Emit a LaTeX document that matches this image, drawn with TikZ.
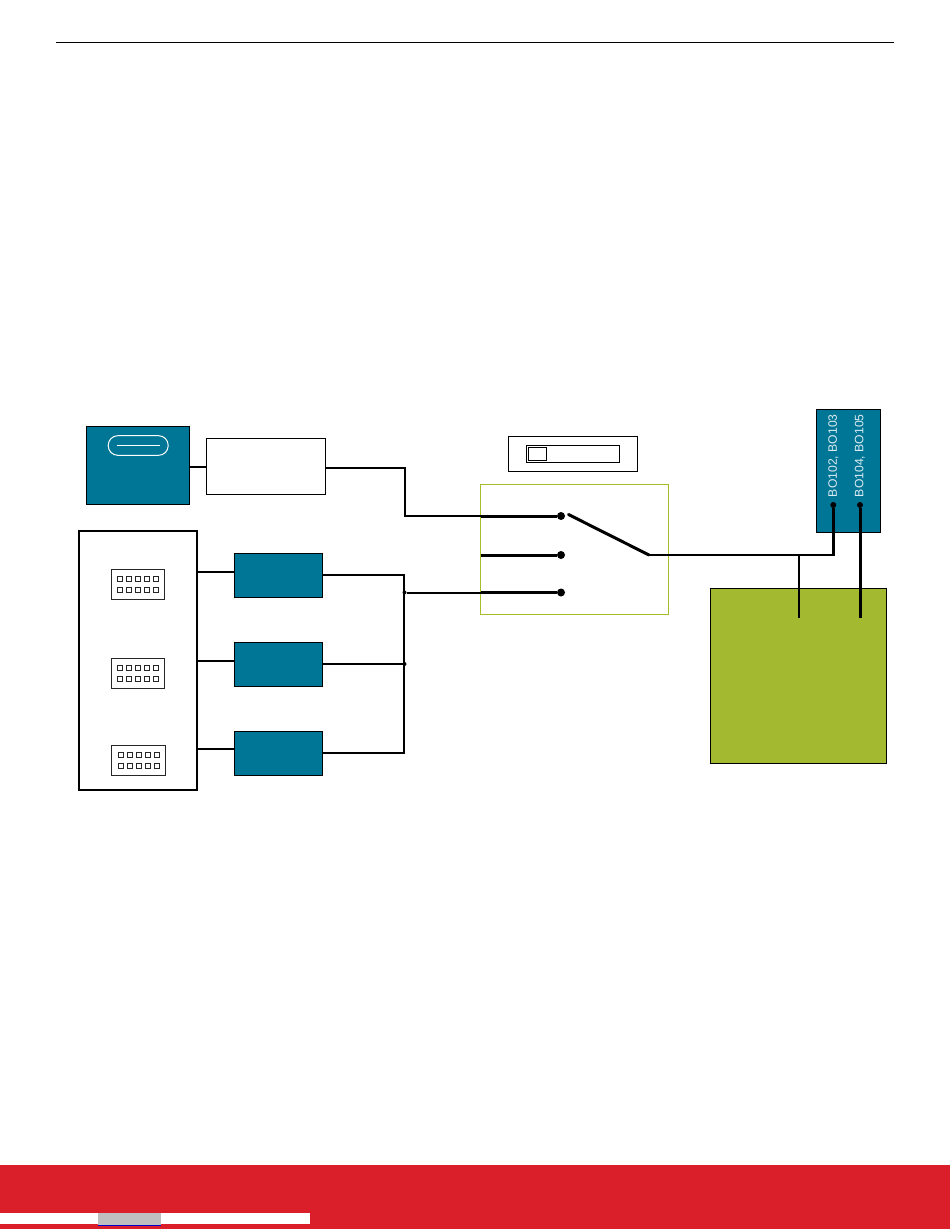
\documentclass[tikz,border=0pt]{standalone}
\usepackage{fontspec}
\setmainfont{Liberation Sans}
\newfontfamily\bolabel{Liberation Sans}
\definecolor{teal}{HTML}{007697}
\definecolor{lime}{HTML}{A3B92F}
\definecolor{limeline}{HTML}{A8BC2A}
\definecolor{brandred}{HTML}{DA1F2B}
\definecolor{lighttxt}{HTML}{DCEBF0}
\tikzset{
  px/.style={line width=#1*0.75pt},
  rectn/.style={draw=black,rectangle,inner sep=0pt,outer sep=0pt,px=1},
  tealbox/.style={rectn,fill=teal},
  wire/.style={draw=black,px=2},
  heavy/.style={draw=black,px=3},
  probe/.style={draw=black,px=3},
  pad/.style={circle,fill=black,draw=none,inner sep=0pt,outer sep=0pt,minimum size=6pt},
  smallpad/.style={circle,fill=black,draw=none,inner sep=0pt,outer sep=0pt,minimum size=4.5pt},
  junction/.style={circle,fill=black,draw=none,inner sep=0pt,outer sep=0pt,minimum size=3pt},
  pin/.style={draw=black!85,fill=white,px=1,rectangle,inner sep=0pt,outer sep=0pt,minimum width=3.75pt,minimum height=3.75pt},
  hdr/.style={draw=black!85,fill=white,px=1,rectangle,inner sep=0pt,outer sep=0pt},
  vtxt/.style={rotate=90,anchor=west,inner sep=0pt,text=lighttxt,font=\bolabel\fontsize{9.15}{11}\selectfont}
}
\newcommand{\boxat}[6]{% name, style, x0, y0, x1, y1
  \node[#2,minimum width={(#5-#3)*0.75pt},minimum height={(#6-#4)*0.75pt}] (#1) at ({(#3+#5)/2},{(#4+#6)/2}) {};}
\newcommand{\pinrow}[6]{% y, x1..x5
  \node[pin] (p#2x#1) at (#2,#1) {};\node[pin] (p#3x#1) at (#3,#1) {};\node[pin] (p#4x#1) at (#4,#1) {};\node[pin] (p#5x#1) at (#5,#1) {};\node[pin] (p#6x#1) at (#6,#1) {};}
\begin{document}
\begin{tikzpicture}[x=0.75pt,y=-0.75pt]
\useasboundingbox (0,0) rectangle (950,1229);
\fill[white] (0,0) rectangle (950,1229);
% header rule and footer
\coordinate (ruleL) at (56,42.5);
\coordinate (ruleR) at (894,42.5);
\draw[draw=black,px=1] (ruleL) -- (ruleR);
\fill[brandred] (0,1165.2) rectangle (950,1229);
\fill[white] (0,1213) rectangle (310,1224);
\fill[black!25] (98,1212.5) rectangle (160.5,1225);
\draw[blue!80!black,px=0.7] (98,1225.3) -- (160.5,1225.3);
% USB block
\boxat{usb}{tealbox}{86.5}{426.5}{189.5}{504.5}
\node[draw=white,px=1,rounded corners=7.2pt,inner sep=0pt,minimum width=45pt,minimum height=14.7pt] (pill) at (138.2,445.5) {};
\coordinate (pillL) at (116.7,445);
\coordinate (pillR) at (160,445);
\draw[white,px=1] (pillL) -- (pillR);
\boxat{ldo}{rectn}{206.5}{438.5}{325.5}{494.5}
% header board
\boxat{hub}{rectn,px=2}{79}{531}{197}{790}
\boxat{h1}{hdr}{111.5}{569.5}{164.5}{599.5}
\boxat{h2}{hdr}{111.5}{658.5}{164.5}{688.5}
\boxat{h3}{hdr}{111.5}{745.5}{165.5}{775.5}
\pinrow{579}{120}{129}{138}{147}{155.5}
\pinrow{590}{120}{129}{138}{147}{155.5}
\pinrow{668}{120}{129}{138}{147}{155.5}
\pinrow{679}{120}{129}{138}{147}{155.5}
\pinrow{755}{120.5}{129.5}{138.5}{147.5}{156.5}
\pinrow{766}{120.5}{129.5}{138.5}{147.5}{156.5}
% buffers
\boxat{b1}{tealbox}{234.5}{553.5}{322.5}{597.5}
\boxat{b2}{tealbox}{234.5}{642.5}{322.5}{686.5}
\boxat{b3}{tealbox}{234.5}{731.5}{322.5}{775.5}
% DIP switch
\boxat{dip}{rectn}{508.5}{436.5}{637.5}{471.5}
\boxat{slot}{rectn}{526.5}{445.5}{619.5}{462.5}
\boxat{slider}{rectn}{528.5}{447.5}{546.5}{460.5}
% selector
\boxat{sel}{rectn,draw=limeline}{480.5}{484.5}{668.5}{614.5}
\node[pad] (s1) at (561,516) {};
\node[pad] (s2) at (561,555) {};
\node[pad] (s3) at (561,592.5) {};
\coordinate (leverTip) at (568.5,514.5);
\coordinate (pivot) at (649,555);
% MCU and breakouts
\boxat{mcu}{rectn,fill=lime}{710.5}{588.5}{886.5}{763.5}
\boxat{bo}{tealbox}{816.5}{409.5}{880.5}{532.5}
\node[vtxt] (bo1) at (833.3,497.3) {BO102, BO103};
\node[vtxt] (bo2) at (860,497.3) {BO104, BO105};
\node[smallpad] (t1) at (833.3,505) {};
\node[smallpad] (t2) at (860,505) {};
\coordinate (m1) at (799,617.5);
\coordinate (m2) at (860,617.5);
\coordinate (tee) at (799,555);
% wires
\coordinate (busTop) at (404,575);
\coordinate (busBot) at (404,753);
\node[junction] (j1) at (404.5,592.5) {};
\node[junction] (j2) at (404.5,664) {};
\draw[wire] (usb.east |- 0,467) -- (ldo.west |- 0,467);
\draw[wire] (ldo.east |- 0,467.5) -| (405,516) -- (sel.west |- s1);
\draw[heavy] (sel.west |- s1) -- (s1);
\draw[wire] (hub.east |- 0,572) -- (b1.west |- 0,572);
\draw[wire] (hub.east |- 0,661) -- (b2.west |- 0,661);
\draw[wire] (hub.east |- 0,749) -- (b3.west |- 0,749);
\draw[wire] (b1.east |- busTop) -- (busTop) -- (busBot) -- (b3.east |- busBot);
\draw[wire] (b2.east |- j2) -- (j2);
\draw[wire] (j1) -- (sel.west |- s3);
\draw[heavy] (sel.west |- s3) -- (s3);
\draw[heavy] (sel.west |- s2) -- (s2);
\draw[heavy,line cap=round] (leverTip) -- (pivot);
\draw[wire] (pivot) -- (834.8,555);
\draw[probe] (833.3,556) -- (t1);
\draw[wire] (tee) -- (m1);
\draw[probe] (t2) -- (m2);
\end{tikzpicture}
\end{document}
